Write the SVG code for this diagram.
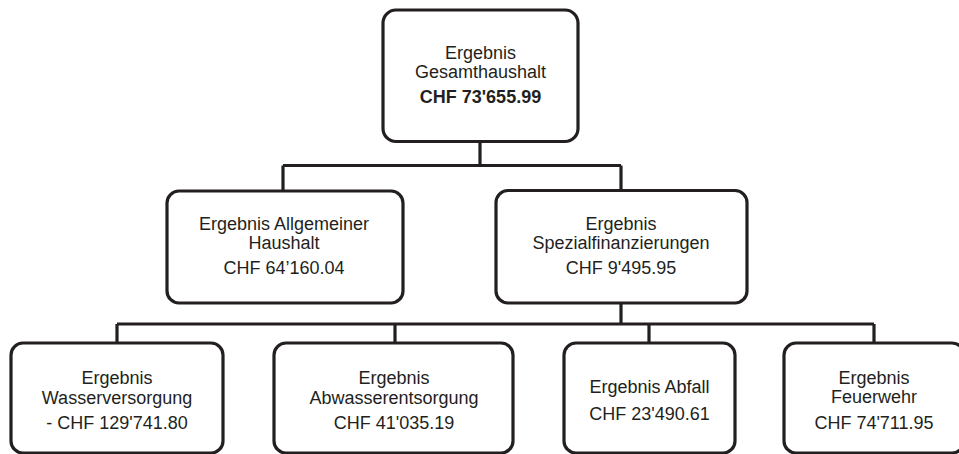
<svg xmlns="http://www.w3.org/2000/svg" width="959" height="454" viewBox="0 0 959 454">
<style>
.box{fill:#ffffff;stroke:#231f20;stroke-width:3.2}
.ln{fill:none;stroke:#231f20;stroke-width:3.2}
text{font-family:"Liberation Sans",Arial,sans-serif;font-size:18px;fill:#231f20;text-anchor:middle}
.b{font-weight:bold}
</style>
<rect width="959" height="454" fill="#ffffff"/>
<g id="connectors">
<path class="ln" d="M480,141.5 V165.5 M283,165.5 H621 M283,165.5 V191 M621,165.5 V191"/>
<path class="ln" d="M621,303 V324 M117,324 H874 M117,324 V343 M395,324 V343 M649,324 V343 M874,324 V343"/>
</g>
<g id="n_gesamt">
<rect class="box" x="383" y="10" width="195" height="131.5" rx="13"/>
<text x="480.5" y="58.5">Ergebnis</text>
<text x="480.5" y="77.5">Gesamthaushalt</text>
<text class="b" x="480.5" y="102.5">CHF 73'655.99</text>
</g>
<g id="n_allgemein">
<rect class="box" x="167" y="191" width="236" height="112" rx="12"/>
<text x="284" y="230">Ergebnis Allgemeiner</text>
<text x="284" y="249">Haushalt</text>
<text x="284" y="274">CHF 64’160.04</text>
</g>
<g id="n_spezial">
<rect class="box" x="496" y="190.5" width="251" height="112.5" rx="12"/>
<text x="621" y="229.5">Ergebnis</text>
<text x="621" y="248.5">Spezialfinanzierungen</text>
<text x="621" y="273.5">CHF 9'495.95</text>
</g>
<g id="n_wasser">
<rect class="box" x="11" y="343" width="212" height="110" rx="12"/>
<text x="117" y="384">Ergebnis</text>
<text x="117" y="404">Wasserversorgung</text>
<text x="117" y="429">- CHF 129'741.80</text>
</g>
<g id="n_abwasser">
<rect class="box" x="274" y="343" width="239" height="110" rx="12"/>
<text x="394" y="384">Ergebnis</text>
<text x="394" y="404">Abwasserentsorgung</text>
<text x="394" y="429">CHF 41'035.19</text>
</g>
<g id="n_abfall">
<rect class="box" x="564" y="343" width="171" height="110" rx="12"/>
<text x="649.5" y="393">Ergebnis Abfall</text>
<text x="649.5" y="420">CHF 23'490.61</text>
</g>
<g id="n_feuerwehr">
<rect class="box" x="784" y="343" width="180" height="110" rx="12"/>
<text x="874" y="384">Ergebnis</text>
<text x="874" y="403">Feuerwehr</text>
<text x="874" y="429">CHF 74'711.95</text>
</g>
</svg>
